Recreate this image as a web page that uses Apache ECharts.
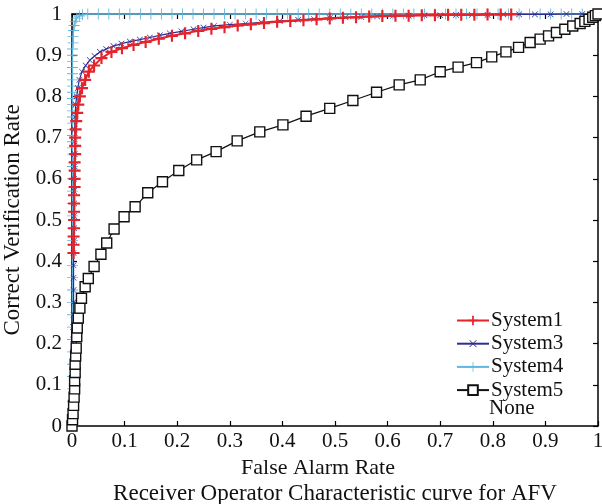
<!DOCTYPE html>
<html>
<head>
<meta charset="utf-8">
<script src="https://cdn.jsdelivr.net/npm/echarts@6/dist/echarts.min.js"></script>
<style>
  html, body { margin: 0; padding: 0; background: #fff; }
  #chart { width: 602px; height: 504px; }
</style>
</head>
<body>
<div id="chart"></div>
<script>
    // values, [false alarm rate, correct verification rate]
    const tickLabels = ['0', '0.1', '0.2', '0.3', '0.4', '0.5', '0.6', '0.7', '0.8', '0.9', '1'];
    const seriesNames = ['System1', 'System3', 'System4', 'System5'];

    const system1 = [
        [0.003, 0.42], [0.003, 0.44], [0.003, 0.46], [0.004, 0.48], [0.004, 0.50], [0.004, 0.52],
        [0.004, 0.54], [0.004, 0.56], [0.005, 0.58], [0.005, 0.60], [0.005, 0.62], [0.005, 0.64],
        [0.006, 0.66], [0.006, 0.68], [0.006, 0.70], [0.007, 0.72], [0.008, 0.74], [0.010, 0.76],
        [0.012, 0.78], [0.015, 0.80], [0.019, 0.82], [0.025, 0.84], [0.032, 0.86], [0.042, 0.875],
        [0.056, 0.893], [0.075, 0.908], [0.095, 0.917], [0.117, 0.925], [0.14, 0.932], [0.165, 0.940],
        [0.19, 0.947], [0.215, 0.953], [0.24, 0.959], [0.265, 0.964], [0.29, 0.968], [0.315, 0.972],
        [0.34, 0.975], [0.365, 0.978], [0.39, 0.981], [0.415, 0.983], [0.44, 0.985], [0.465, 0.987],
        [0.49, 0.989], [0.515, 0.991], [0.54, 0.992], [0.565, 0.994], [0.59, 0.995], [0.615, 0.996],
        [0.64, 0.996], [0.665, 0.997], [0.69, 0.997], [0.715, 0.998], [0.74, 0.998], [0.765, 0.998],
        [0.79, 0.999], [0.815, 0.999], [0.835, 0.999]
    ];

    const system3 = [
        [0, 0], [0.001, 0.03], [0.001, 0.06], [0.001, 0.09], [0.002, 0.12], [0.002, 0.15],
        [0.002, 0.18], [0.002, 0.21], [0.002, 0.24], [0.003, 0.27], [0.003, 0.30], [0.003, 0.33],
        [0.003, 0.36], [0.003, 0.39], [0.003, 0.42], [0.004, 0.45], [0.004, 0.48], [0.004, 0.51],
        [0.004, 0.54], [0.004, 0.57], [0.004, 0.60], [0.005, 0.63], [0.005, 0.66], [0.005, 0.69],
        [0.005, 0.72], [0.006, 0.75], [0.007, 0.78], [0.009, 0.80], [0.011, 0.82], [0.014, 0.84],
        [0.019, 0.86], [0.026, 0.875], [0.034, 0.888], [0.043, 0.898], [0.053, 0.908], [0.065, 0.915],
        [0.079, 0.922], [0.094, 0.928], [0.110, 0.933], [0.129, 0.938], [0.148, 0.943], [0.167, 0.948],
        [0.186, 0.953], [0.208, 0.958], [0.231, 0.963], [0.25, 0.967], [0.27, 0.971], [0.30, 0.974],
        [0.33, 0.977], [0.36, 0.980], [0.395, 0.983], [0.43, 0.986], [0.46, 0.988], [0.49, 0.990],
        [0.52, 0.992], [0.55, 0.993], [0.58, 0.994], [0.61, 0.995], [0.64, 0.996], [0.67, 0.997],
        [0.70, 0.997], [0.73, 0.998], [0.76, 0.998], [0.79, 0.998], [0.82, 0.999], [0.85, 0.999],
        [0.88, 0.999], [0.91, 0.999], [0.94, 1.0], [0.97, 1.0], [1, 1]
    ];

    const system4 = [
        [0, 0], [0.001, 0.03], [0.001, 0.06], [0.001, 0.09], [0.001, 0.12], [0.001, 0.15],
        [0.001, 0.18], [0.001, 0.21], [0.001, 0.24], [0.001, 0.27], [0.001, 0.30], [0.001, 0.33],
        [0.001, 0.36], [0.001, 0.39], [0.001, 0.42], [0.001, 0.45], [0.001, 0.48], [0.001, 0.51],
        [0.001, 0.54], [0.001, 0.57], [0.001, 0.60], [0.001, 0.63], [0.001, 0.66], [0.001, 0.675],
        [0.001, 0.69], [0.001, 0.705], [0.001, 0.72], [0.001, 0.735], [0.001, 0.75], [0.001, 0.765],
        [0.001, 0.78], [0.001, 0.795], [0.001, 0.81], [0.001, 0.825], [0.001, 0.84], [0.001, 0.855],
        [0.001, 0.87], [0.001, 0.885], [0.001, 0.90], [0.001, 0.915], [0.002, 0.93], [0.002, 0.945],
        [0.003, 0.96], [0.004, 0.972], [0.006, 0.982], [0.009, 0.99], [0.014, 0.995], [0.02, 0.998],
        [0.03, 1], [0.05, 1], [0.07, 1], [0.09, 1], [0.11, 1], [0.13, 1], [0.15, 1], [0.17, 1],
        [0.19, 1], [0.21, 1], [0.23, 1], [0.25, 1], [0.27, 1], [0.29, 1], [0.31, 1], [0.33, 1],
        [0.35, 1], [0.37, 1], [0.39, 1], [0.41, 1], [0.43, 1], [0.45, 1], [0.47, 1], [0.49, 1],
        [0.51, 1], [0.53, 1], [0.55, 1], [0.57, 1], [0.59, 1], [0.61, 1], [0.63, 1], [0.65, 1],
        [0.67, 1], [0.69, 1], [0.71, 1], [0.73, 1], [0.75, 1], [0.77, 1], [0.79, 1], [0.81, 1],
        [0.83, 1], [0.85, 1], [0.87, 1], [0.89, 1], [0.91, 1], [0.93, 1], [0.95, 1], [0.97, 1], [1, 1]
    ];

    const system5 = [
        [0, 0], [0.001, 0.015], [0.002, 0.03], [0.003, 0.05], [0.004, 0.07], [0.005, 0.09],
        [0.005, 0.11], [0.006, 0.13], [0.006, 0.15], [0.007, 0.17], [0.008, 0.189], [0.009, 0.217],
        [0.010, 0.238], [0.012, 0.262], [0.015, 0.286], [0.018, 0.310], [0.025, 0.338], [0.031, 0.358],
        [0.042, 0.387], [0.055, 0.417], [0.066, 0.444], [0.080, 0.478], [0.099, 0.508], [0.120, 0.532],
        [0.144, 0.566], [0.172, 0.593], [0.203, 0.620], [0.237, 0.646], [0.274, 0.666], [0.314, 0.692],
        [0.357, 0.714], [0.401, 0.731], [0.445, 0.752], [0.490, 0.771], [0.534, 0.790], [0.579, 0.810],
        [0.622, 0.828], [0.662, 0.840], [0.700, 0.860], [0.734, 0.871], [0.769, 0.882], [0.798, 0.896],
        [0.825, 0.908], [0.849, 0.919], [0.871, 0.931], [0.890, 0.939], [0.906, 0.947], [0.921, 0.955],
        [0.937, 0.963], [0.952, 0.971], [0.966, 0.977], [0.975, 0.982], [0.983, 0.987], [0.99, 0.992],
        [0.995, 0.996], [1, 1]
    ];

    const FONT = 'Liberation Serif';
    const plusPath = 'path://M-1,-0.18 L1,-0.18 L1,0.18 L-1,0.18 Z M-0.18,-1 L0.18,-1 L0.18,1 L-0.18,1 Z';
    const thinPlus = 'path://M-1,-0.08 L1,-0.08 L1,0.08 L-1,0.08 Z M-0.08,-1 L0.08,-1 L0.08,1 L-0.08,1 Z';

    const axisCommon = {
        type: 'value',
        min: 0,
        max: 1,
        interval: 0.1,
        axisLine: { show: true, onZero: false, lineStyle: { color: '#000', width: 1.5 } },
        axisTick: { show: true, inside: true, length: 5, lineStyle: { color: '#000', width: 1.2 } },
        splitLine: { show: false },
    };

    const tickFormatter = (v) => tickLabels[Math.round(v * 10)];

    const chart = echarts.init(document.getElementById('chart'), null, { renderer: 'canvas' });

    chart.setOption({
        backgroundColor: '#fff',
        animation: false,
        textStyle: { fontFamily: FONT },
        title: {
            text: 'Receiver Operator Characteristic curve for AFV',
            left: 330,
            top: 477,
            textAlign: 'center',
            textStyle: { fontFamily: FONT, fontSize: 23, fontWeight: 'normal', color: '#111' },
        },
        grid: { left: 72, right: 4, top: 14, bottom: 78, outerBoundsMode: 'none', containLabel: false },
        xAxis: [{
            ...axisCommon,
            position: 'bottom',
            name: 'False Alarm Rate',
            nameLocation: 'middle',
            nameGap: 28,
            nameTextStyle: { fontFamily: FONT, fontSize: 22, color: '#111', padding: [0, 34, 0, 0] },
            axisLabel: { fontFamily: FONT, fontSize: 21, color: '#111', margin: 5, formatter: tickFormatter },
        }, {
            ...axisCommon,
            position: 'top',
            axisLabel: { show: false },
        }],
        yAxis: [{
            ...axisCommon,
            position: 'left',
            name: 'Correct Verification Rate',
            nameLocation: 'middle',
            nameGap: 41,
            nameTextStyle: { fontFamily: FONT, fontSize: 23, color: '#111' },
            axisLabel: { fontFamily: FONT, fontSize: 21, color: '#111', margin: 10, formatter: tickFormatter },
        }, {
            ...axisCommon,
            position: 'right',
            axisLabel: { show: false },
        }],
        legend: {
            orient: 'vertical',
            left: 451,
            top: 305,
            itemWidth: 32,
            itemHeight: 12,
            itemGap: 2.2,
            data: seriesNames,
            textStyle: { fontFamily: FONT, fontSize: 21, color: '#111', lineHeight: 20, padding: [0, 0, 0, -3] },
        },
        graphic: [{
            type: 'text',
            left: 489,
            top: 398,
            style: { text: 'None', fontFamily: FONT, fontSize: 21, fill: '#111' },
        }],
        series: [{
            name: 'System1',
            type: 'line',
            data: system1,
            clip: false,
            z: 4,
            symbol: plusPath,
            symbolSize: 12,
            color: '#e5232b',
            lineStyle: { color: '#e5232b', width: 2 },
            itemStyle: { color: '#e5232b' },
        }, {
            name: 'System3',
            type: 'line',
            data: system3,
            clip: false,
            z: 3,
            symbol: thinPlus,
            symbolRotate: 45,
            symbolSize: 8,
            color: '#2b2f8f',
            lineStyle: { color: '#2b2f8f', width: 1.2 },
            itemStyle: { color: '#2b2f8f' },
        }, {
            name: 'System4',
            type: 'line',
            data: system4,
            clip: false,
            z: 2,
            symbol: thinPlus,
            symbolSize: 11,
            color: '#5fb6de',
            lineStyle: { color: '#5fb6de', width: 1.2 },
            itemStyle: { color: '#5fb6de' },
        }, {
            name: 'System5',
            type: 'line',
            data: system5,
            clip: false,
            z: 5,
            symbol: 'rect',
            symbolSize: 10,
            color: '#111',
            lineStyle: { color: '#111', width: 1.2 },
            itemStyle: { color: '#fff', borderColor: '#111', borderWidth: 1.4 },
        }],
    });
</script>
</body>
</html>
